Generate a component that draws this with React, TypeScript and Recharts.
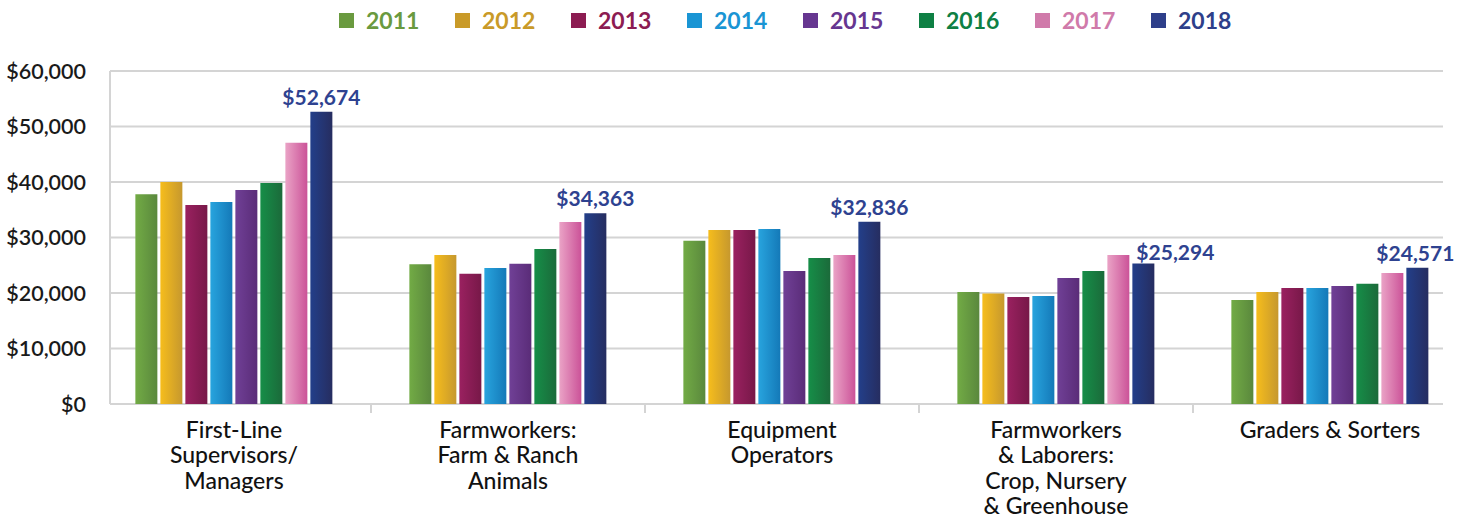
import { BarChart, Bar, XAxis, YAxis, CartesianGrid, Legend, LabelList } from 'recharts'

const categories = [
  'First-Line\nSupervisors/\nManagers',
  'Farmworkers:\nFarm & Ranch\nAnimals',
  'Equipment\nOperators',
  'Farmworkers\n& Laborers:\nCrop, Nursery\n& Greenhouse',
  'Graders & Sorters',
]

const years = ['2011', '2012', '2013', '2014', '2015', '2016', '2017', '2018']

const y2011 = [37800, 25200, 29400, 20200, 18750]
const y2012 = [40000, 26850, 31350, 19900, 20200]
const y2013 = [35850, 23450, 31350, 19300, 20900]
const y2014 = [36400, 24500, 31550, 19450, 20900]
const y2015 = [38550, 25250, 23950, 22700, 21250]
const y2016 = [39800, 27950, 26300, 23950, 21650]
const y2017 = [47050, 32800, 26850, 26850, 23600]
const y2018 = [52674, 34363, 32836, 25294, 24571]

const yTicks = [0, 10000, 20000, 30000, 40000, 50000, 60000]

const series = [y2011, y2012, y2013, y2014, y2015, y2016, y2017, y2018]

// legend swatch colour, gradient left, gradient right
const COLORS = [
  ['#6a9a3f', '#72ab45', '#5a883d'],
  ['#c99a28', '#f6bd1c', '#c6982e'],
  ['#8c1c52', '#9a2160', '#771848'],
  ['#1a95d4', '#28a4de', '#1479b8'],
  ['#663690', '#704096', '#5a2c78'],
  ['#0e8044', '#168e48', '#1b6a3a'],
  ['#d07aaa', '#eaa3c6', '#cb5298'],
  ['#2e3f8a', '#233f8a', '#262d60'],
]

const data = categories.map((name, i) => {
  const row: Record<string, string | number> = { name }
  years.forEach((yr, j) => {
    row[yr] = series[j][i]
  })
  return row
})

const FONT = 'Lato, "Noto Sans", sans-serif'

function CategoryTick({ x, y, payload }: any) {
  const lines = String(payload.value).split('\n')
  return (
    <text
      x={x}
      y={y}
      textAnchor="middle"
      fontFamily={FONT}
      fontSize={23}
      fontWeight={500}
      fill="#111"
    >
      {lines.map((line, i) => (
        <tspan key={i} x={x} dy={i === 0 ? 25.5 : 25.5}>
          {line}
        </tspan>
      ))}
    </text>
  )
}

function ValueLabel({ x, y, width, value, index }: any) {
  const shift = index === 3 ? 32 : index === 4 ? -2 : 0
  return (
    <text
      x={x + width / 2 + shift}
      y={y - (index === 3 ? 4 : 7)}
      textAnchor="middle"
      fontFamily={FONT}
      fontSize={21}
      fontWeight={700}
      fill="#2e4290"
    >
      {'$' + Number(value).toLocaleString('en-US')}
    </text>
  )
}

function renderLegend() {
  return (
    <div
      style={{
        display: 'flex',
        justifyContent: 'flex-start',
        height: 40,
        alignItems: 'center',
        fontFamily: FONT,
        paddingLeft: 339,
      }}
    >
      {years.map((yr, i) => (
        <div key={yr} style={{ display: 'flex', alignItems: 'center', marginRight: 37 }}>
          <span
            style={{
              width: 15,
              height: 15,
              background: COLORS[i][0],
              display: 'inline-block',
              marginRight: 12,
            }}
          />
          <span style={{ color: COLORS[i][0], fontWeight: 700, fontSize: 23, width: 52 }}>{yr}</span>
        </div>
      ))}
    </div>
  )
}

export default function App() {
  return (
    <div
      style={{
        position: 'absolute',
        left: 0,
        top: 0,
        width: 1458,
        height: 519,
        overflow: 'hidden',
        background: '#fff',
      }}
    >
      <BarChart
        width={1467}
        height={519}
        data={data}
        margin={{ top: 31, right: 0, bottom: 0, left: 0 }}
        barCategoryGap="14%"
        barGap={3}
      >
        <defs>
          {COLORS.map((c, i) => (
            <linearGradient key={i} id={`grad${i}`} x1="0" y1="0" x2="1" y2="0">
              <stop offset="0%" stopColor={c[1]} />
              <stop offset="100%" stopColor={c[2]} />
            </linearGradient>
          ))}
        </defs>
        <Legend verticalAlign="top" height={40} content={renderLegend} wrapperStyle={{ top: 0, left: 0 }} />
        <CartesianGrid
          x={110}
          width={1333}
          vertical
          verticalPoints={[110]}
          stroke="#d4d4d4"
          strokeWidth={2}
        />
        <CartesianGrid
          x={110}
          y={404}
          width={1333}
          height={9}
          horizontal={false}
          verticalPoints={[371, 645, 919, 1193]}
          stroke="#d4d4d4"
          strokeWidth={2}
        />
        <XAxis
          dataKey="name"
          height={115}
          axisLine={false}
          tickLine={false}
          interval={0}
          tick={<CategoryTick />}
        />
        <YAxis
          width={97}
          domain={[0, 60000]}
          ticks={yTicks}
          axisLine={false}
          tickLine={false}
          tickMargin={5}
          tickFormatter={(v: number) => '$' + v.toLocaleString('en-US')}
          tick={{ fontFamily: FONT, fontSize: 21.5, fontWeight: 600, fill: '#1a1a1a' }}
        />
        {years.map((yr, i) => (
          <Bar key={yr} dataKey={yr} fill={`url(#grad${i})`} isAnimationActive={false}>
            {i === years.length - 1 && <LabelList dataKey={yr} content={<ValueLabel />} />}
          </Bar>
        ))}
      </BarChart>
    </div>
  )
}
